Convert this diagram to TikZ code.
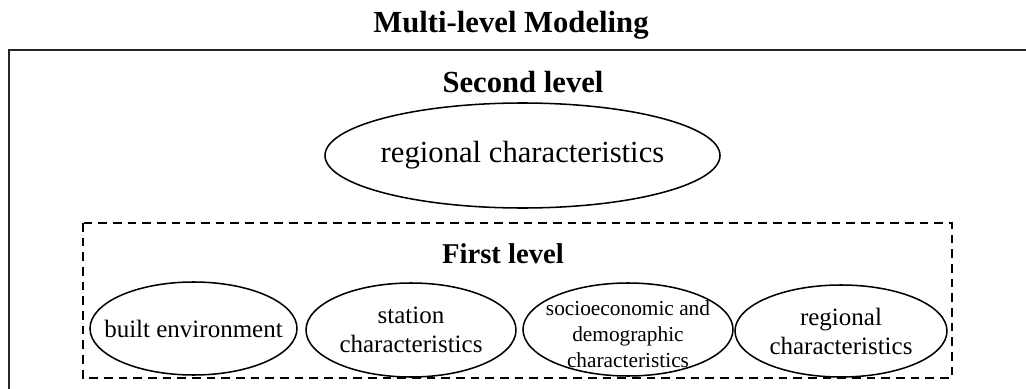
\documentclass[tikz,border=0pt]{standalone}
\usepackage{fontspec}
\setmainfont{Liberation Serif}
\usetikzlibrary{positioning}
\tikzset{every picture/.style={line width=1.15pt}}
\tikzset{
  factor/.style={align=center, inner sep=0pt, font=\fontsize{18.75}{21.75}\selectfont},
  heading/.style={anchor=base, font=\bfseries\fontsize{23}{27}\selectfont}
}

\begin{document}
\begin{tikzpicture}[x=0.75pt,y=-0.75pt]
		  \useasboundingbox (0,0) rectangle (1026,389);
		  \begin{scope}
		  \clip (0,0) rectangle (1026,389);
		  \draw[line width=1.5pt, black!85] (9,50) rectangle (1040,400);
		  \end{scope}
		  \node[heading] (title) at (511,32) {Multi-level Modeling};
		  \node[heading] (second) at (523,92) {Second level};
		  \node[factor, font=\fontsize{23}{27}\selectfont] (region top) at (522.5,155) {regional characteristics};
		  \draw[dash pattern=on 6.5pt off 4.5pt, line width=1.1pt] (83,223) rectangle (952,378);
		  \node[heading, font=\bfseries\fontsize{21.5}{25}\selectfont] (first) at (503,263) {First level};
		  \node[factor] (built) at (193.5,328.5) {built environment};
		  \node[factor] (station) at (411,330) {station\\characteristics};
		  \node[factor, font=\fontsize{16}{19.5}\selectfont] (socio) at (628,334) {socioeconomic and\\demographic\\characteristics};
		  \node[factor] (region) at (841,331) {regional\\characteristics};
		  
		  \draw (522.5,155.5) ellipse [x radius=197.5, y radius=52.5];
		  \draw (built.center) ellipse [x radius=103.5, y radius=46.5];
		  \draw (station.center) ellipse [x radius=105, y radius=47];
		  \draw (628,329.5) ellipse [x radius=105, y radius=46.5];
		  \draw (region.center) ellipse [x radius=106, y radius=46];
		\end{tikzpicture}
\end{document}
